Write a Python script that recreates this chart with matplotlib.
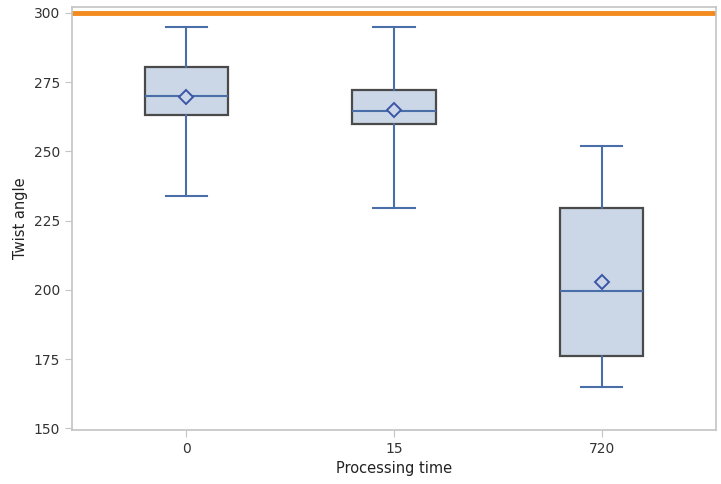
import matplotlib.pyplot as plt

# 処理時間ごとの統計値
groups = ['0', '15', '720']
whislo = [234, 229.5, 165]
q1 = [263, 260, 176]
med = [270, 264.5, 199.5]
q3 = [280.5, 272, 229.5]
whishi = [295, 295, 252]
mean = [269.5, 265, 203]
ref_line = 300

plt.rcParams['font.family'] = 'DejaVu Sans'
plt.rcParams['font.size'] = 10

fig = plt.figure(figsize=(7.21, 4.84), dpi=100)
ax = fig.add_axes([0.1, 0.112, 0.893, 0.874])

stats = []
for i in range(len(groups)):
    stats.append(dict(label=groups[i], whislo=whislo[i], q1=q1[i], med=med[i],
                      q3=q3[i], whishi=whishi[i], mean=mean[i]))

blue = '#4a6fa8'
ax.bxp(stats, positions=range(len(groups)), widths=0.4, capwidths=0.2,
       showmeans=True, showfliers=False, patch_artist=True,
       boxprops=dict(facecolor='#cbd6e7', edgecolor='#4a4a4a', linewidth=1.6),
       whiskerprops=dict(color=blue, linewidth=1.5),
       capprops=dict(color=blue, linewidth=1.5),
       medianprops=dict(color=blue, linewidth=1.5),
       meanprops=dict(marker='D', markerfacecolor='#cbd6e7',
                      markeredgecolor='#3b56a6', markersize=7, markeredgewidth=1.4))

ax.axhline(ref_line, color='#f28a1e', lw=3.5, zorder=1)

ax.set_xlim(-0.55, 2.55)
ax.set_ylim(149.5, 302.2)
ax.set_yticks([150, 175, 200, 225, 250, 275, 300])

for s in ax.spines.values():
    s.set_color('#c4c4c4')
    s.set_linewidth(1.2)
ax.tick_params(colors='#c4c4c4', labelcolor='#333333', length=5)

ax.set_xlabel('Processing time', fontsize=10.5, color='#222222')
ax.set_ylabel('Twist angle', fontsize=10.5, color='#222222')

fig.savefig('out.png')
